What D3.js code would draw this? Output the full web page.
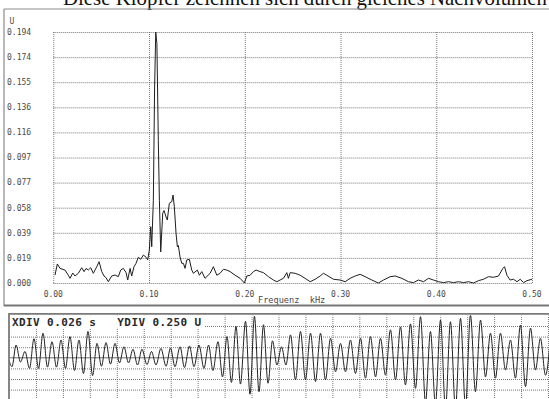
<!DOCTYPE html>
<html>
<head>
<meta charset="utf-8">
<script src="https://cdn.jsdelivr.net/npm/d3@7"></script>
<style>
  html, body { margin: 0; padding: 0; background: #fff; }
  svg { display: block; }
  .mono { font-family: 'DejaVu Sans Mono', 'Liberation Mono', monospace; }
</style>
</head>
<body>
<script>
const width = 549
const height = 399

const headline = 'Diese Klopfer zeichnen sich durch gleiches Nachvolumen'

// spectrum: frequency (kHz) / amplitude (U)
const specFreq = [
  0.0018, 0.0042, 0.0070, 0.0122, 0.0157, 0.0175, 0.0203, 0.0227, 0.0261, 0.0297,
  0.0321, 0.0342, 0.0366, 0.0391, 0.0418, 0.0454, 0.0478, 0.0506, 0.0530, 0.0551,
  0.0575, 0.0610, 0.0645, 0.0679, 0.0704, 0.0732, 0.0760, 0.0777, 0.0802, 0.0819,
  0.0843, 0.0864, 0.0888, 0.0913, 0.0941, 0.0969, 0.0986, 0.1003, 0.1018, 0.1028,
  0.1045, 0.1058, 0.1070, 0.1082, 0.1097, 0.1108, 0.1122, 0.1143, 0.1157, 0.1178,
  0.1191, 0.1212, 0.1237, 0.1251, 0.1264, 0.1282, 0.1296, 0.1306, 0.1324, 0.1342,
  0.1359, 0.1376, 0.1394, 0.1421, 0.1446, 0.1463, 0.1505, 0.1526, 0.1551, 0.1585,
  0.1638, 0.1672, 0.1708, 0.1742, 0.1777, 0.1812, 0.1847, 0.1899, 0.1951, 0.1996,
  0.2021, 0.2056, 0.2090, 0.2118, 0.2160, 0.2195, 0.2247, 0.2299, 0.2335, 0.2369,
  0.2404, 0.2439, 0.2456, 0.2474, 0.2526, 0.2578, 0.2630, 0.2683, 0.2735, 0.2787,
  0.2822, 0.2857, 0.2926, 0.2996, 0.3048, 0.3100, 0.3153, 0.3205, 0.3257, 0.3327,
  0.3396, 0.3449, 0.3519, 0.3571, 0.3641, 0.3710, 0.3762, 0.3814, 0.3867, 0.3919,
  0.3971, 0.4023, 0.4076, 0.4128, 0.4180, 0.4232, 0.4285, 0.4337, 0.4389, 0.4441,
  0.4494, 0.4546, 0.4598, 0.4650, 0.4696, 0.4713, 0.4738, 0.4772, 0.4807, 0.4843,
  0.4877, 0.4912, 0.4947, 0.5000
]
const specAmp = [
  0.0062, 0.0147, 0.0113, 0.0100, 0.0060, 0.0036, 0.0077, 0.0054, 0.0075, 0.0118,
  0.0088, 0.0113, 0.0100, 0.0118, 0.0075, 0.0126, 0.0165, 0.0088, 0.0054, 0.0041,
  0.0010, 0.0054, 0.0062, 0.0049, 0.0100, 0.0113, 0.0080, 0.0023, 0.0113, 0.0054,
  0.0126, 0.0152, 0.0199, 0.0183, 0.0216, 0.0199, 0.0178, 0.0255, 0.0435, 0.0280,
  0.0640, 0.1500, 0.1940, 0.1850, 0.1100, 0.0640, 0.0240, 0.0540, 0.0560, 0.0510,
  0.0487, 0.0616, 0.0628, 0.0680, 0.0590, 0.0384, 0.0280, 0.0290, 0.0200, 0.0152,
  0.0152, 0.0113, 0.0178, 0.0183, 0.0100, 0.0075, 0.0100, 0.0060, 0.0088, 0.0036,
  0.0075, 0.0126, 0.0060, 0.0075, 0.0106, 0.0100, 0.0088, 0.0060, 0.0036, 0.0000,
  0.0054, 0.0060, 0.0088, 0.0100, 0.0088, 0.0080, 0.0049, 0.0023, 0.0010, 0.0023,
  0.0036, 0.0080, 0.0036, 0.0080, 0.0075, 0.0060, 0.0036, 0.0010, 0.0029, 0.0054,
  0.0075, 0.0060, 0.0029, 0.0023, 0.0010, 0.0036, 0.0054, 0.0067, 0.0049, 0.0023,
  0.0000, 0.0023, 0.0049, 0.0054, 0.0036, 0.0010, 0.0003, 0.0023, 0.0010, 0.0036,
  0.0023, 0.0010, 0.0003, 0.0010, 0.0003, 0.0010, 0.0003, 0.0010, 0.0000, 0.0018,
  0.0029, 0.0049, 0.0044, 0.0054, 0.0113, 0.0126, 0.0060, 0.0023, 0.0029, 0.0010,
  0.0029, 0.0003, 0.0018, 0.0029
]
const yTickLabels = ['0.000', '0.019', '0.039', '0.058', '0.077', '0.097',
  '0.116', '0.136', '0.155', '0.174', '0.194']
const xTickLabels = ['0.00', '0.10', '0.20', '0.30', '0.40', '0.50']
const yUnit = 'U'
const xTitle = 'Frequenz  kHz'

// scope trace: turning points, time (ms) / voltage (U)
const waveTime = [
  0, 2.9, 6.8, 11.1, 15.4, 19.8, 24.1, 28.5, 32.8, 37.1, 41.5, 45.8, 50.2, 54.5,
  58.8, 63.2, 67.5, 71.9, 76.2, 80.6, 84.9, 89.2, 93.6, 97.9, 102.3, 106.6, 110.9,
  115.3, 119.6, 124.0, 128.3, 133.1, 137.5, 141.8, 146.6, 151.5, 155.8, 160.1,
  165.0, 169.3, 174.1, 178.5, 183.3, 188.1, 192.5, 196.8, 201.6, 206.0, 210.3,
  214.6, 219.0, 223.3, 228.2, 232.5, 236.8, 241.2, 245.5, 249.9, 254.2, 258.5,
  262.9, 267.2, 271.6, 276.4, 281.2, 286.0, 290.9, 295.7, 300.5, 305.3, 310.2,
  315.0, 319.8, 324.6, 329.4, 334.3, 339.1, 343.9, 348.7, 353.6, 358.4, 363.2,
  368.0, 372.9, 377.7, 382.5, 387.3, 392.2, 397.0, 401.8, 406.6, 411.4, 416.3,
  421.1, 425.9, 430.7, 435.6, 440.4, 445.2, 450.0, 454.9, 459.7, 464.5, 469.3,
  474.1, 479.0, 483.8, 488.6, 493.4, 498.3, 503.1, 507.9, 512.7, 517.6, 522.4
]
const waveVolt = [
  -0.05, -0.21, 0.30, -0.10, 0.15, -0.25, 0.45, -0.25, 0.58, -0.22, 0.38, -0.22,
  0.42, -0.25, 0.50, -0.30, 0.42, -0.37, 0.62, -0.42, 0.34, -0.20, 0.36, -0.15,
  0.34, -0.12, 0.26, -0.12, 0.20, -0.17, 0.20, -0.16, 0.15, -0.17, 0.22, -0.20,
  0.23, -0.21, 0.26, -0.23, 0.28, -0.21, 0.30, -0.25, 0.30, -0.30, 0.38, -0.45,
  0.50, -0.58, 0.74, -0.62, 0.86, -0.86, 0.98, -0.80, 0.78, -0.60, 0.40, -0.17,
  0.26, -0.17, 0.54, -0.52, 0.62, -0.52, 0.58, -0.56, 0.58, -0.52, 0.46, -0.33,
  0.34, -0.33, 0.42, -0.37, 0.46, -0.48, 0.50, -0.45, 0.46, -0.41, 0.66, -0.52,
  0.73, -0.64, 0.80, -0.72, 0.97, -1.05, 0.62, -1.10, 0.89, -1.20, 0.85, -1.20,
  0.93, -1.15, 1.01, -0.80, 0.89, -0.45, 0.58, -0.48, 0.58, -0.29, 0.42, -0.48,
  0.77, -0.68, 0.70, -0.29, 0.46, -0.41, 0.50
]
const xdivLabel = 'XDIV 0.026 s'
const ydivLabel = 'YDIV 0.250 U'
const xdivMs = 26
const ydivU = 0.25

const svg = d3.select('body').append('svg')
  .attr('width', width)
  .attr('height', height)
  .attr('viewBox', [0, 0, width, height])

// headline from the page above, cut by the scan
svg.append('text')
  .attr('x', 63)
  .attr('y', 5)
  .attr('textLength', 484)
  .attr('lengthAdjust', 'spacingAndGlyphs')
  .style('font-family', "'Liberation Serif', serif")
  .style('font-size', '22px')
  .attr('fill', '#111')
  .text(headline)

// ---------- spectrum panel ----------
const plot = { left: 53.3, right: 532, top: 32, bottom: 283 }

svg.append('path')
  .attr('d', `M4,9H${width + 5}M4,9V306`)
  .attr('fill', 'none')
  .attr('stroke', '#8a8a8a')
  .attr('stroke-width', 1.2)
svg.append('line')
  .attr('x1', 4).attr('x2', width).attr('y1', 305.5).attr('y2', 305.5)
  .attr('stroke', '#777')
  .attr('stroke-width', 2)

const x = d3.scaleLinear().domain([0, 0.5]).range([plot.left, plot.right])
const y = d3.scaleLinear().domain([0, 0.194]).range([plot.bottom, plot.top])

const xTicks = xTickLabels.map(Number)
const yTicks = yTickLabels.map((_, i) => (0.194 * i) / (yTickLabels.length - 1))

const dotted = g =>
  g.call(g => g.select('.domain').remove())
    .call(g => g.selectAll('.tick line')
      .attr('stroke', '#6a6a6a')
      .attr('stroke-width', 0.9)
      .attr('stroke-dasharray', '1,1'))

svg.append('g')
  .attr('transform', `translate(0,${plot.bottom})`)
  .call(d3.axisBottom(x).tickValues(xTicks)
    .tickSize(-(plot.bottom - plot.top)).tickFormat(() => null))
  .call(dotted)

svg.append('g')
  .attr('transform', `translate(${plot.left},0)`)
  .call(d3.axisLeft(y).tickValues(yTicks)
    .tickSize(-(plot.right - plot.left)).tickFormat(() => null))
  .call(dotted)

const labelStyle = sel =>
  sel.attr('class', 'mono')
    .style('font-size', '8px')
    .attr('fill', '#4a4a4a')

svg.append('g')
  .selectAll('text')
  .data(yTicks)
  .join('text')
  .call(labelStyle)
  .attr('x', 7)
  .attr('y', d => y(d))
  .attr('dy', '0.35em')
  .text((d, i) => yTickLabels[i])

svg.append('text')
  .call(labelStyle)
  .attr('x', 9.5)
  .attr('y', 21.5)
  .attr('dy', '0.35em')
  .text(yUnit)

svg.append('g')
  .selectAll('text')
  .data(xTicks)
  .join('text')
  .call(labelStyle)
  .attr('x', d => x(d))
  .attr('y', 297)
  .attr('text-anchor', 'middle')
  .text((d, i) => xTickLabels[i])

svg.append('text')
  .call(labelStyle)
  .style('font-size', '8.6px')
  .attr('x', 258)
  .attr('y', 303)
  .style('white-space', 'pre')
  .attr('xml:space', 'preserve')
  .text(xTitle)

svg.append('path')
  .datum(d3.zip(specFreq, specAmp))
  .attr('fill', 'none')
  .attr('stroke', '#1e1e1e')
  .attr('stroke-width', 1)
  .attr('stroke-linejoin', 'round')
  .attr('d', d3.line().x(d => x(d[0])).y(d => y(d[1])))

// ---------- scope panel ----------
const scope = { left: 9, right: 548, top: 315.4, bottom: 400.2 }

const bx = d3.scaleLinear().domain([0, 20 * xdivMs]).range([scope.left, scope.right])
const by = d3.scaleLinear().domain([-4 * ydivU, 4 * ydivU]).range([scope.bottom, scope.top])

svg.append('defs').append('clipPath')
  .attr('id', 'scope-clip')
  .append('rect')
  .attr('x', scope.left).attr('y', scope.top)
  .attr('width', width - scope.left).attr('height', height - scope.top)

const scopeG = svg.append('g').attr('clip-path', 'url(#scope-clip)')

scopeG.append('g')
  .attr('transform', `translate(0,${height + 5})`)
  .call(d3.axisBottom(bx).tickValues(d3.range(1, 21).map(k => k * xdivMs))
    .tickSize(-(height + 5 - scope.top)).tickFormat(() => null))
  .call(dotted)

scopeG.append('g')
  .attr('transform', `translate(${scope.left},0)`)
  .call(d3.axisLeft(by).tickValues([-3, -2, -1, 1, 2, 3].map(k => k * ydivU))
    .tickSize(-(width - scope.left)).tickFormat(() => null))
  .call(dotted)

scopeG.append('line')
  .attr('x1', scope.left).attr('x2', width)
  .attr('y1', by(0)).attr('y2', by(0))
  .attr('stroke', '#6a6a6a')
  .attr('stroke-width', 1)

scopeG.append('path')
  .datum(d3.zip(waveTime, waveVolt))
  .attr('fill', 'none')
  .attr('stroke', '#222')
  .attr('stroke-width', 1)
  .attr('d', d3.line().curve(d3.curveMonotoneX).x(d => bx(d[0])).y(d => by(d[1])))

// label box hides the grid behind the text
scopeG.append('rect')
  .attr('x', scope.left + 1).attr('y', scope.top)
  .attr('width', 195).attr('height', 13)
  .attr('fill', '#fff')

scopeG.append('text')
  .attr('class', 'mono')
  .style('font-size', '11px')
  .style('font-weight', 'bold')
  .style('letter-spacing', '0.4px')
  .attr('fill', '#2a2a2a')
  .attr('x', 12)
  .attr('y', 325.5)
  .attr('xml:space', 'preserve')
  .style('white-space', 'pre')
  .text(`${xdivLabel}   ${ydivLabel}`)

svg.append('path')
  .attr('d', `M${scope.left},${height + 2}V${scope.top - 1.5}H${width + 2}`)
  .attr('fill', 'none')
  .attr('stroke', '#7a7a7a')
  .attr('stroke-width', 1.8)
</script>
</body>
</html>
